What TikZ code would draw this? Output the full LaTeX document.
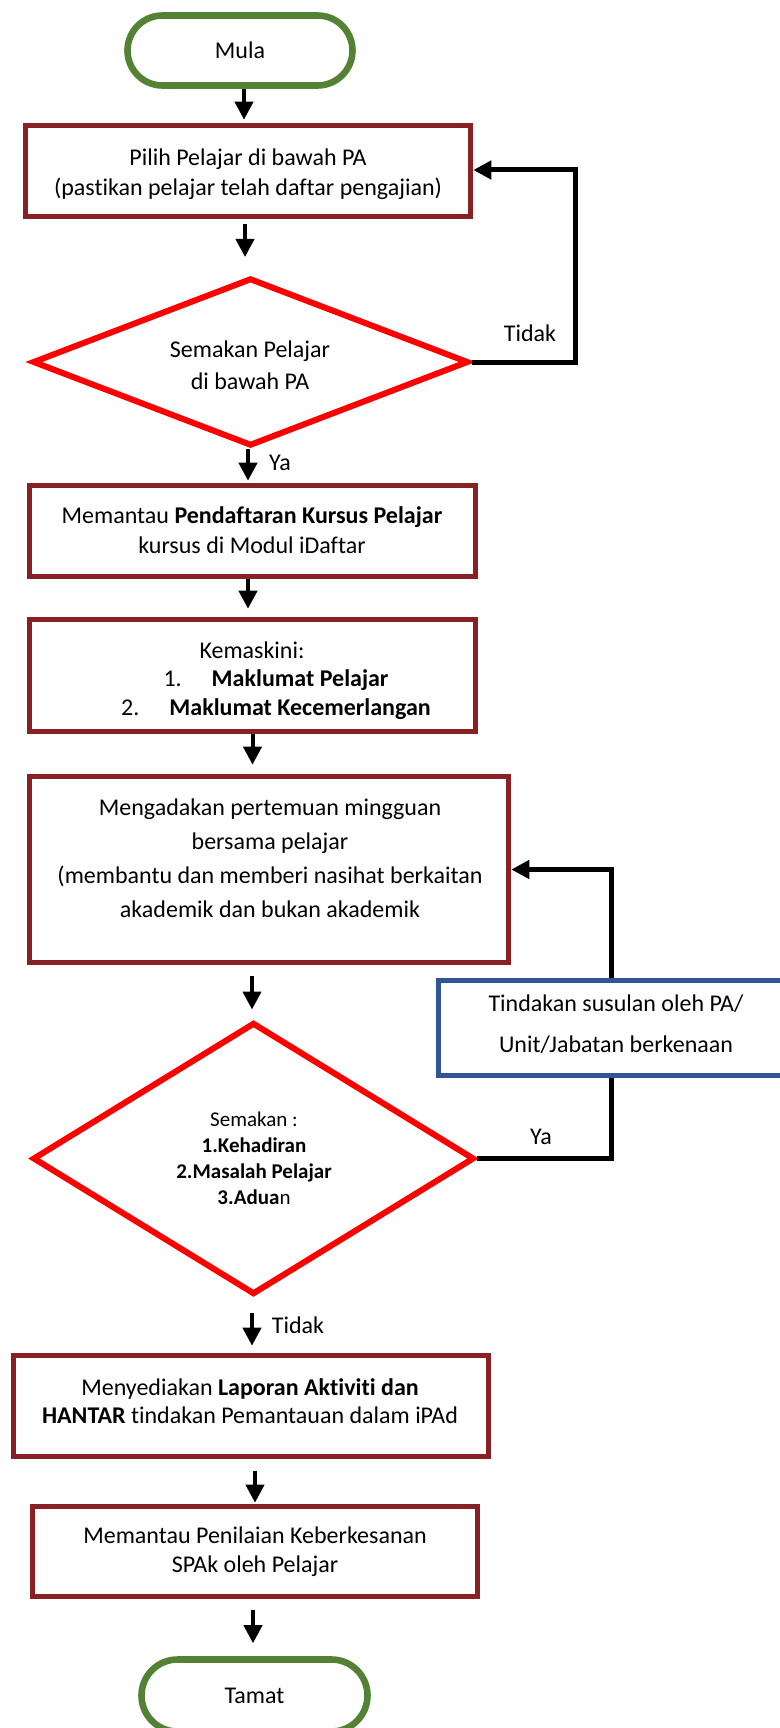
\documentclass[tikz,border=0pt]{standalone}
\usepackage{fontspec}
\setmainfont{Carlito}[Ligatures=NoCommon]
\usetikzlibrary{shapes.geometric,arrows.meta,calc}
\definecolor{tgreen}{RGB}{84,130,53}
\definecolor{bred}{RGB}{137,32,36}
\definecolor{dblue}{RGB}{47,85,151}
\begin{document}
\begin{tikzpicture}[x=0.5pt,y=-0.5pt,
  term/.style={draw=tgreen,line width=3.3pt,rounded corners=17.5pt,minimum width=112.5pt,minimum height=35pt,inner sep=0pt,font=\fontsize{12}{15}\selectfont},
  pbox/.style={draw=bred,line width=2.8pt,inner sep=0pt},
  dec/.style={draw=red,line width=3pt,shape=diamond,inner sep=0pt},
  bbox/.style={draw=dblue,line width=2.8pt,inner sep=0pt},
  txt/.style={align=center,inner sep=0pt,font=\fontsize{12}{15}\selectfont},
  arr/.style={line width=2pt,-{Triangle[width=9pt,length=9pt]}},
  connarr/.style={line width=2.5pt,-{Triangle[width=9pt,length=9pt]}},
  conn/.style={line width=2.5pt},
]
\useasboundingbox (0,0) rectangle (780,1728);
\clip (0,0) rectangle (780,1728);

% nodes
\node[term] (mula) at (240,50.5) {Mula};
\node[pbox,minimum width=222.5pt,minimum height=45.5pt] (b1) at (248,171) {};
\node[txt] (t1) at (248,174) {Pilih Pelajar di bawah PA\\(pastikan pelajar telah daftar pengajian)};

\node[dec,minimum width=218pt,minimum height=84pt] (d1) at (250.5,362) {};
\node[txt,font=\fontsize{12}{16}\selectfont] (td1) at (250,365) {Semakan Pelajar\\di bawah PA};

\node[pbox,minimum width=223pt,minimum height=45.5pt] (b2) at (252.5,531) {};
\node[txt] (t2) at (252,530) {Memantau \textbf{Pendaftaran Kursus Pelajar}\\kursus di Modul iDaftar};

\node[pbox,minimum width=223pt,minimum height=56pt] (b3) at (252.5,675.5) {};
\node[txt] (t3a) at (252,650) {Kemaskini:};
\node[txt,font=\fontsize{12}{14.5}\selectfont] (t3b) at (276,694.5) {1.\hspace{15pt}\textbf{Maklumat Pelajar}\\2.\hspace{15pt}\textbf{Maklumat Kecemerlangan}};

\node[pbox,minimum width=239.5pt,minimum height=93pt] (b4) at (269,869.5) {};
\node[txt,font=\fontsize{12}{17}\selectfont] (t4) at (270,858) {Mengadakan pertemuan mingguan\\bersama pelajar\\(membantu dan memberi nasihat berkaitan\\akademik dan bukan akademik};

\node[bbox,minimum width=178pt,minimum height=47.5pt] (blue) at (616.5,1028) {};
\node[txt,font=\fontsize{12}{20.5}\selectfont] (tb) at (616,1024) {Tindakan susulan oleh PA/\\Unit/Jabatan berkenaan};

\node[dec,minimum width=220.8pt,minimum height=136pt] (d2) at (253.5,1158.5) {};
\node[txt,font=\fontsize{10.5}{13}\selectfont] (td2) at (254,1158) {Semakan :\\\textbf{1.Kehadiran}\\\textbf{2.Masalah Pelajar}\\\textbf{3.Adua}n};

\node[pbox,minimum width=237.5pt,minimum height=50.5pt] (b5) at (251,1406) {};
\node[txt,font=\fontsize{12}{14}\selectfont] (t5) at (250,1401) {Menyediakan \textbf{Laporan Aktiviti dan}\\\textbf{HANTAR} tindakan Pemantauan dalam iPAd};

\node[pbox,minimum width=222.5pt,minimum height=45pt] (b6) at (255,1551.5) {};
\node[txt,font=\fontsize{12}{14.5}\selectfont] (t6) at (255,1551.5) {Memantau Penilaian Keberkesanan\\SPAk oleh Pelajar};

\node[term,minimum width=113pt,minimum height=36pt,rounded corners=18pt] (tamat) at (254.5,1695.5) {Tamat};

% arrows
\draw[arr,shorten >=1.5pt] ([xshift=2pt]mula.south) -- ([xshift=2pt]mula.south |- b1.north);
\draw[arr,shorten <=2.5pt,shorten >=9pt] ([xshift=-1.5pt]b1.south) -- ([xshift=-1.5pt]b1.south |- d1.north);
\draw[arr,shorten >=1pt] ([xshift=-1.25pt]d1.south) -- ([xshift=-1.25pt]d1.south |- b2.north);
\draw[arr,shorten >=4pt] ([xshift=-2.25pt]b2.south) -- ([xshift=-2.25pt]b2.south |- b3.north);
\draw[arr,shorten >=4.5pt] (b3.south) -- (b3.south |- b4.north);
\draw[arr,shorten <=5.5pt,shorten >=5pt] ([xshift=-8.5pt]b4.south) -- ([xshift=-8.5pt]b4.south |- d2.north);
\draw[arr,shorten <=7.5pt,shorten >=3.5pt] ([xshift=-0.75pt]d2.south) -- ([xshift=-0.75pt]d2.south |- b5.north);
\draw[arr,shorten <=6pt,shorten >=0.5pt] ([xshift=2pt]b5.south) -- ([xshift=2pt]b5.south |- b6.north);
\draw[arr,shorten <=5.5pt,shorten >=6.5pt] ([xshift=-1pt]b6.south) -- ([xshift=-1pt]b6.south |- tamat.north);

% loops
\coordinate (lp1) at (575,170);
\draw[connarr] (d1.east) -| (lp1) -- (lp1 -| b1.east);
\coordinate (lp2) at (611,868);
\draw[conn] (d2.east) -| (blue.south -| lp2);
\draw[connarr] (blue.north -| lp2) |- (b4.east);

% labels
\node[txt] (l1) at (530,333) {Tidak};
\node[txt] (l2) at (280,463) {Ya};
\node[txt] (l3) at (541,1137) {Ya};
\node[txt] (l4) at (298,1325) {Tidak};
\end{tikzpicture}
\end{document}
